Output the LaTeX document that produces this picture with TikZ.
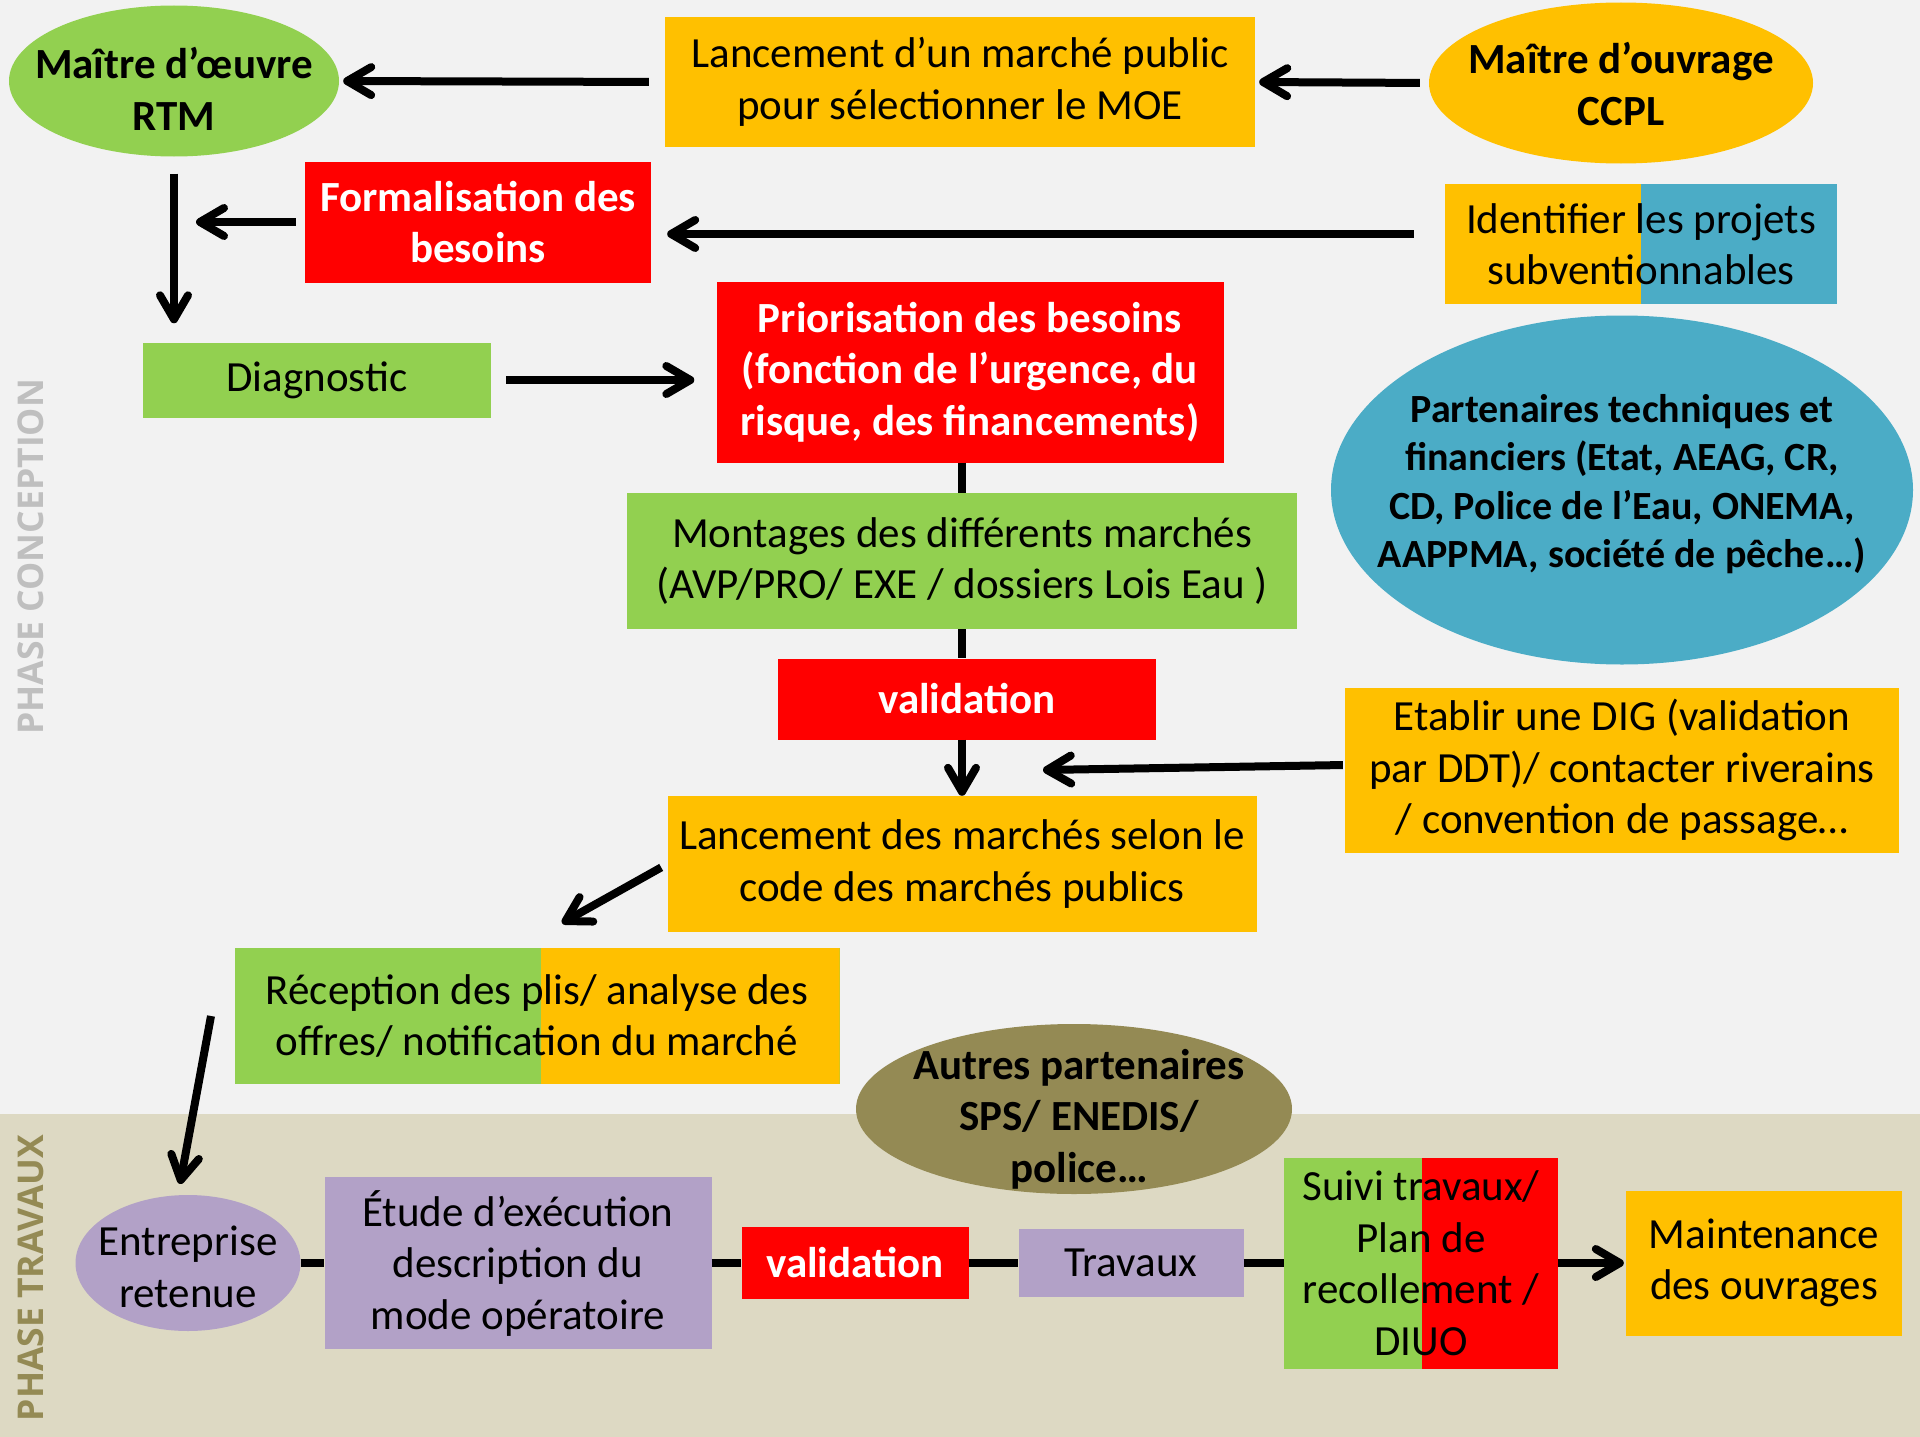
\documentclass[tikz,border=0pt]{standalone}
\usepackage{fontspec}
\setmainfont{Carlito}
\newfontfamily\phasefont{Open Sans}
\usetikzlibrary{arrows.meta}
\usetikzlibrary{shapes.geometric}
\usetikzlibrary{positioning}

\definecolor{fondgris}{HTML}{F2F2F2}
\definecolor{fondbeige}{HTML}{DDD9C3}
\definecolor{vert}{HTML}{92D050}
\definecolor{orange}{HTML}{FFC000}
\definecolor{rouge}{HTML}{FF0000}
\definecolor{bleu}{HTML}{4BACC6}
\definecolor{violet}{HTML}{B2A1C7}
\definecolor{olive}{HTML}{948A54}
\definecolor{grisphase}{HTML}{BFBFBF}

\begin{document}
\begin{tikzpicture}[x=1pt, y=-1pt,
	boite/.style={rectangle, minimum width=#1},
	bulle/.style={ellipse, minimum width=#1},
	gras/.style={font=\bfseries\fontsize{43}{51.5}\selectfont},
	blanc/.style={gras, text=white, fill=rouge},
	phase/.style={rotate=90, font=\phasefont\bfseries\fontsize{35.5}{40}\selectfont},
	moitie/.style 2 args={path picture={\fill[#2] ([xshift=#1]path picture bounding box.north west) rectangle (path picture bounding box.south east);}}]

	\fill[fondgris] (0,0) rectangle (1920,1114);
	\fill[fondbeige] (0,1114) rectangle (1920,1437);
	\useasboundingbox (0,0) rectangle (1920,1437);

	\begin{scope}[every node/.style={inner sep=0pt, align=center, font=\fontsize{43}{51.5}\selectfont}]
		\node[phase, text=grisphase] (conception) at (31,557) {PHASE CONCEPTION};
		\node[phase, text=olive] (travaux) at (31,1278) {PHASE TRAVAUX};

		\node[bulle=330pt, minimum height=151pt, fill=vert] (rtm) at (174,81) {};
		\node[gras] (rtmtexte) at (174,89) {Maître d’œuvre\\RTM};
		\node[boite=590pt, minimum height=130pt, fill=orange] (moe) at (960,82) {Lancement d’un marché public\\pour sélectionner le MOE};
		\node[bulle=384pt, minimum height=161pt, fill=orange] (ccpl) at (1621,83) {};
		\node[gras] (ccpltexte) at (1621,84) {Maître d’ouvrage\\CCPL};
		\node[boite=346pt, minimum height=121pt, blanc] (form) at (478,222) {Formalisation des\\besoins};
		\node[boite=392pt, minimum height=120pt, fill=orange, moitie={196pt}{bleu}] (ident) at (1641,244) {Identifier les projets\\subventionnables};
		\node[boite=348pt, minimum height=75pt, fill=vert] (diag) at (317,380) {Diagnostic};
		\node[boite=507pt, minimum height=181pt, blanc] (prio) at (970,372) {Priorisation des besoins\\(fonction de l’urgence, du\\risque, des financements)};
		\node[bulle=582pt, minimum height=349pt, fill=bleu] (part) at (1622,490) {};
		\node[font=\bfseries\fontsize{40}{48.5}\selectfont] (parttexte) at (1622,484) {Partenaires techniques et\\financiers (Etat, AEAG, CR,\\CD, Police de l’Eau, ONEMA,\\AAPPMA, société de pêche…)};
		\node[boite=670pt, minimum height=136pt, fill=vert] (mont) at (962,561) {Montages des différents marchés\\(AVP/PRO/ EXE / dossiers Lois Eau )};
		\node[boite=378pt, minimum height=81pt, blanc] (valid) at (967,699) {validation};
		\node[boite=554pt, minimum height=165pt, fill=orange] (etab) at (1622,770) {Etablir une DIG (validation\\par DDT)/ contacter riverains\\/ convention de passage…};
		\node[boite=589pt, minimum height=136pt, fill=orange] (lanc) at (962,864) {Lancement des marchés selon le\\code des marchés publics};
		\node[boite=605pt, minimum height=136pt, fill=vert, moitie={306pt}{orange}] (recep) at (537,1016) {Réception des plis/ analyse des\\offres/ notification du marché};
		\node[bulle=436pt, minimum height=170pt, fill=olive] (autres) at (1074,1109) {};
		\node[gras] (autrestexte) at (1079,1119) {Autres partenaires\\SPS/ ENEDIS/\\police…};
		\node[bulle=225pt, minimum height=136pt, fill=violet] (entr) at (188,1263) {};
		\node (entrtexte) at (188,1267) {Entreprise\\retenue};
		\node[boite=387pt, minimum height=172pt, fill=violet] (etude) at (518,1263) {Étude d’exécution\\description du\\mode opératoire};
		\node[boite=227pt, minimum height=72pt, blanc] (valid2) at (855,1263) {validation};
		\node[boite=225pt, minimum height=68pt, fill=violet] (trav) at (1131,1263) {Travaux};
		\node[boite=274pt, minimum height=211pt, fill=vert, moitie={138pt}{rouge}] (suivi) at (1421,1263) {Suivi travaux/\\Plan de\\recollement /\\DIUO};
		\node[boite=276pt, minimum height=145pt, fill=orange] (maint) at (1764,1263) {Maintenance\\des ouvrages};

		\coordinate (formpointe) at (196,222);
		\coordinate (etabpointe) at (1043,770);
		\coordinate (lancpointe) at (562,923);
		\coordinate (recepdepart) at (211,1016);
	\end{scope}

	\begin{scope}[every edge/.style={draw=black, line width=8pt, -{Straight Barb[length=24pt, width=28pt, round]}}]
		\path (moe.west) edge[shorten <=16pt, shorten >=4pt] (rtm.east);
		\path (ccpl.west) edge[shorten <=9pt, shorten >=4pt] (moe.east);
		\path (form.west) edge[shorten <=9pt] (formpointe);
		\path (rtm.south) edge[shorten <=17pt, shorten >=19pt] (rtm.south |- diag.north);
		\path ([yshift=10pt]ident.west) edge[shorten <=31pt, shorten >=16pt] ([yshift=-12pt]form.east);
		\path (diag.east) edge[shorten <=15pt, shorten >=22pt] (diag.east -| prio.west);
		\path (mont.north |- prio.south) edge[-] (mont.north);
		\path (mont.south) edge[-] (mont.south |- valid.north);
		\path (lanc.north |- valid.south) edge (lanc.north);
		\path ([yshift=5pt]etab.west) edge[shorten <=2pt] (etabpointe);
		\path (lanc.west) edge[shorten <=7pt] (lancpointe);
		\path (recepdepart) edge[shorten >=11pt] ([xshift=-10pt]entr.north);
		\path (entr) edge[-] (etude);
		\path (etude) edge[-] (valid2);
		\path (valid2) edge[-] (trav);
		\path (trav) edge[-] (suivi);
		\path (suivi) edge[shorten >=2pt] (maint);
	\end{scope}
\end{tikzpicture}
\end{document}
